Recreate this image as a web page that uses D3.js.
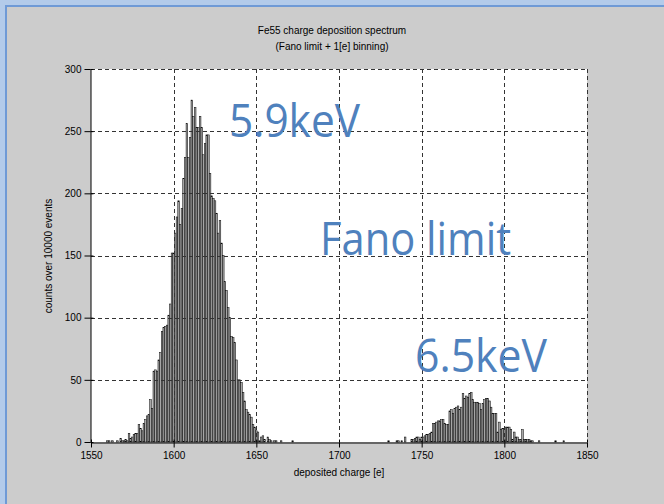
<!DOCTYPE html>
<html>
<head>
<meta charset="utf-8">
<script src="https://cdn.jsdelivr.net/npm/d3@7"></script>
<style>
  html, body { margin: 0; padding: 0; background: #cccccc; }
  svg { display: block; }
</style>
</head>
<body>
<svg id="chart" width="664" height="504"></svg>
<script>
// ---------- data ----------
const titleLines = ["Fe55 charge deposition spectrum", "(Fano limit + 1[e] binning)"];
const xLabel = "deposited charge [e]";
const yLabel = "counts over 10000 events";
const xTicks = [1550, 1600, 1650, 1700, 1750, 1800, 1850];
const yTicks = [0, 50, 100, 150, 200, 250, 300];
const annotations = ["5.9keV", "Fano limit", "6.5keV"];

// 5.9 keV peak, 1[e] bins starting at charge 1558
const peak1FirstBin = 1558;
const peak1Counts = [
  0, 0, 1, 1, 0, 1, 0, 0, 1, 0,
  3, 1, 1, 2, 1, 7, 3, 4, 6, 7,
  7, 14, 11, 9, 15, 18, 21, 22, 34, 27,
  57, 58, 57, 66, 72, 89, 92, 93, 94, 102,
  111, 152, 152, 168, 181, 194, 175, 188, 212, 229,
  256, 229, 245, 275, 262, 269, 253, 253, 262, 253,
  231, 240, 247, 247, 216, 198, 196, 194, 184, 168,
  178, 160, 150, 129, 122, 108, 100, 85, 84, 80,
  66, 50, 50, 48, 40, 33, 26, 24, 22, 20,
  14, 12, 9, 8, 1, 4, 5, 2, 0, 4,
  2, 1, 0, 1, 1, 0, 0, 1, 0, 0,
  0, 0, 0, 0, 1
];

// 6.5 keV peak, 1[e] bins starting at charge 1728
const peak2FirstBin = 1728;
const peak2Counts = [
  0, 0, 1, 0, 0, 0, 0, 1, 1, 0,
  1, 0, 4, 0, 0, 0, 2, 2, 3, 4,
  4, 2, 4, 4, 5, 6, 6, 7, 8, 15,
  15, 16, 17, 17, 18, 18, 15, 14, 14, 25,
  26, 23, 27, 28, 29, 26, 28, 39, 35, 37,
  36, 39, 40, 34, 32, 32, 32, 31, 26, 31,
  34, 35, 35, 33, 28, 23, 23, 23, 8, 16,
  10, 11, 11, 12, 12, 12, 10, 2, 8, 4,
  4, 2, 2, 10, 2, 2, 2, 2, 1, 1,
  0, 0, 0, 1, 0, 0, 0, 0, 0, 0,
  0, 0, 0, 1, 0, 0, 0, 0, 1, 0
];

// ---------- layout ----------
const svg = d3.select("#chart");
const plot = { left: 91, right: 587, top: 69, bottom: 442 };
const x = d3.scaleLinear().domain([1550, 1850]).range([plot.left, plot.right]);
const y = d3.scaleLinear().domain([0, 300]).range([plot.bottom, plot.top]);
const font = "'Liberation Sans', Arial, sans-serif";

// window frame
svg.append("rect").attr("x", 0).attr("y", 0).attr("width", 664).attr("height", 504).attr("fill", "#cccccc");
svg.append("rect").attr("x", 0).attr("y", 0).attr("width", 664).attr("height", 5).attr("fill", "#b3cbea");
svg.append("rect").attr("x", 0).attr("y", 5).attr("width", 664).attr("height", 2).attr("fill", "#6f9ad6");
svg.append("rect").attr("x", 0).attr("y", 0).attr("width", 5).attr("height", 504).attr("fill", "#b3cbea");
svg.append("rect").attr("x", 5).attr("y", 5).attr("width", 2).attr("height", 499).attr("fill", "#6f9ad6");

// plot background
svg.append("rect")
  .attr("x", plot.left).attr("y", plot.top)
  .attr("width", plot.right - plot.left).attr("height", plot.bottom - plot.top)
  .attr("fill", "#ffffff");

// bars
const bins = [];
peak1Counts.forEach((c, i) => bins.push({ q: peak1FirstBin + i, c }));
peak2Counts.forEach((c, i) => bins.push({ q: peak2FirstBin + i, c }));

svg.append("g").selectAll("rect")
  .data(bins.filter(d => d.c > 0))
  .join("rect")
  .attr("x", d => x(d.q - 0.5))
  .attr("y", d => y(d.c))
  .attr("width", d => x(d.q + 0.5) - x(d.q - 0.5))
  .attr("height", d => y(0) - y(d.c))
  .attr("fill", "#a6a6a6")
  .attr("stroke", "#000000")
  .attr("stroke-width", 0.5);

// grid (dashed, on top)
const grid = svg.append("g").attr("stroke", "#333333").attr("stroke-width", 1)
  .attr("stroke-dasharray", "4,3").attr("fill", "none");
xTicks.filter(v => v > 1550).forEach(v => {
  grid.append("line").attr("x1", Math.round(x(v)) + 0.5).attr("x2", Math.round(x(v)) + 0.5)
    .attr("y1", plot.top).attr("y2", plot.bottom);
});
yTicks.filter(v => v > 0).forEach(v => {
  grid.append("line").attr("x1", plot.left).attr("x2", plot.right)
    .attr("y1", Math.round(y(v)) + 0.5).attr("y2", Math.round(y(v)) + 0.5);
});

// axes
const xAxis = d3.axisBottom(x).tickValues(xTicks).tickFormat(d3.format("d"))
  .tickSize(5).tickSizeOuter(0).tickPadding(4);
const yAxis = d3.axisLeft(y).tickValues(yTicks).tickFormat(d3.format("d"))
  .tickSize(6).tickSizeOuter(0).tickPadding(3);

const gx = svg.append("g").attr("transform", `translate(0,${plot.bottom + 0.5})`).call(xAxis);
const gy = svg.append("g").attr("transform", `translate(${plot.left - 0.5},0)`).call(yAxis);
[gx, gy].forEach(g => {
  g.select(".domain").attr("stroke", "#000");
  g.selectAll(".tick line").attr("stroke", "#000");
  g.selectAll("text").attr("font-family", font).attr("font-size", 10).attr("fill", "#000");
});
// small inner ticks
gx.selectAll(".tick").append("line").attr("y1", 0).attr("y2", -3).attr("stroke", "#000");
gy.selectAll(".tick").append("line").attr("x1", 0).attr("x2", 3).attr("stroke", "#000");

// titles
svg.append("text").attr("x", 332).attr("y", 34).attr("text-anchor", "middle")
  .attr("font-family", font).attr("font-size", 10).text(titleLines[0]);
svg.append("text").attr("x", 332).attr("y", 50).attr("text-anchor", "middle")
  .attr("font-family", font).attr("font-size", 10).text(titleLines[1]);
svg.append("text").attr("x", 339).attr("y", 476).attr("text-anchor", "middle")
  .attr("font-family", font).attr("font-size", 10).text(xLabel);
svg.append("text").attr("transform", "translate(52,256) rotate(-90)").attr("text-anchor", "middle")
  .attr("font-family", font).attr("font-size", 10).text(yLabel);

// annotations
const annFont = "'Open Sans', 'Noto Sans', sans-serif";
const annPos = [
  { x: 229, y: 137, w: 131 },
  { x: 320, y: 255, w: 191 },
  { x: 415, y: 372, w: 132 }
];
annotations.forEach((t, i) => {
  svg.append("text").attr("x", annPos[i].x).attr("y", annPos[i].y)
    .attr("font-family", annFont).attr("font-size", 46).attr("fill", "#4f81bd")
    .attr("textLength", annPos[i].w).attr("lengthAdjust", "spacingAndGlyphs")
    .text(t);
});
</script>
</body>
</html>
